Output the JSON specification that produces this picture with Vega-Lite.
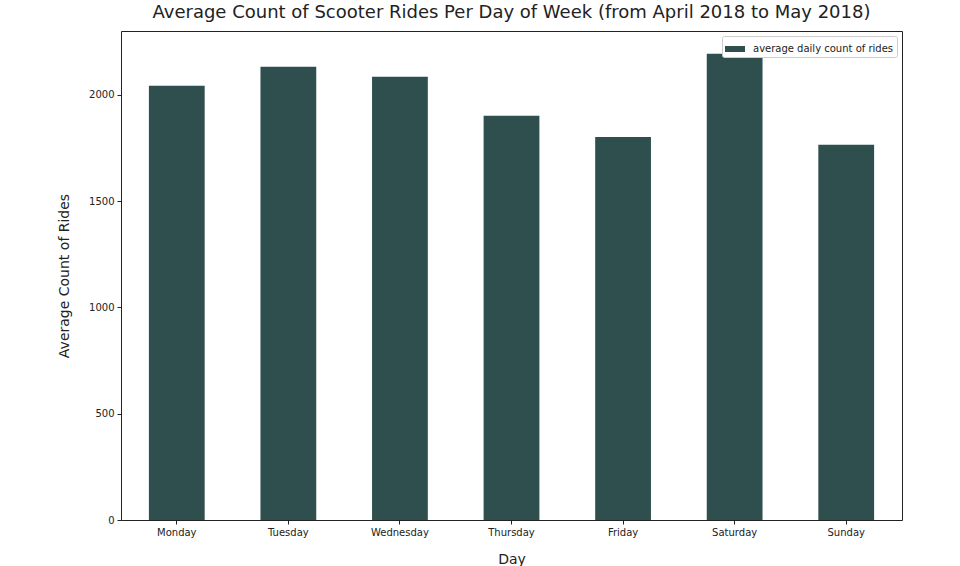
{
  "$schema": "https://vega.github.io/schema/vega-lite/v6.json",
  "width": 781,
  "height": 489,
  "autosize": {"type": "none"},
  "padding": {"left": 121, "top": 31, "right": 58, "bottom": 46},
  "background": "white",
  "config": {
    "font": "DejaVu Sans",
    "view": {"stroke": "#222222", "strokeWidth": 1},
    "axis": {"grid": false, "domain": false, "tickColor": "#222222", "tickSize": 4, "labelColor": "#222222", "labelFontSize": 10, "titleFontSize": 14, "titleFontWeight": "normal", "titleColor": "#222222"}
  },
  "title": {"text": "Average Count of Scooter Rides Per Day of Week (from April 2018 to May 2018)", "fontSize": 18, "fontWeight": "normal", "color": "#222222", "offset": 9, "font": "DejaVu Sans"},
  "data": {"values": [
    {"day": "Monday", "rides": 2042, "series": "average daily count of rides"},
    {"day": "Tuesday", "rides": 2132, "series": "average daily count of rides"},
    {"day": "Wednesday", "rides": 2085, "series": "average daily count of rides"},
    {"day": "Thursday", "rides": 1901, "series": "average daily count of rides"},
    {"day": "Friday", "rides": 1802, "series": "average daily count of rides"},
    {"day": "Saturday", "rides": 2193, "series": "average daily count of rides"},
    {"day": "Sunday", "rides": 1765, "series": "average daily count of rides"}
  ]},
  "mark": {"type": "bar"},
  "encoding": {
    "x": {"field": "day", "type": "nominal", "sort": null, "title": "Day",
      "scale": {"paddingInner": 0.5, "paddingOuter": 0.25},
      "axis": {"labelAngle": 0, "titlePadding": 15, "labelPadding": 3}},
    "y": {"field": "rides", "type": "quantitative", "title": "Average Count of Rides",
      "scale": {"domain": [0, 2300], "nice": false},
      "axis": {"values": [0, 500, 1000, 1500, 2000], "format": "d", "titlePadding": 17, "labelPadding": 3}},
    "color": {"field": "series", "type": "nominal", "title": null,
      "scale": {"range": ["#2f4f4f"]},
      "legend": {"orient": "top-right", "offset": 5, "padding": 3, "strokeColor": "#cccccc", "fillColor": "white", "cornerRadius": 2,
        "symbolType": "M-1,-0.3H1V0.3H-1Z", "symbolSize": 400, "symbolStrokeWidth": 0, "labelFontSize": 10, "labelColor": "#222222", "labelOffset": 8}}
  }
}
